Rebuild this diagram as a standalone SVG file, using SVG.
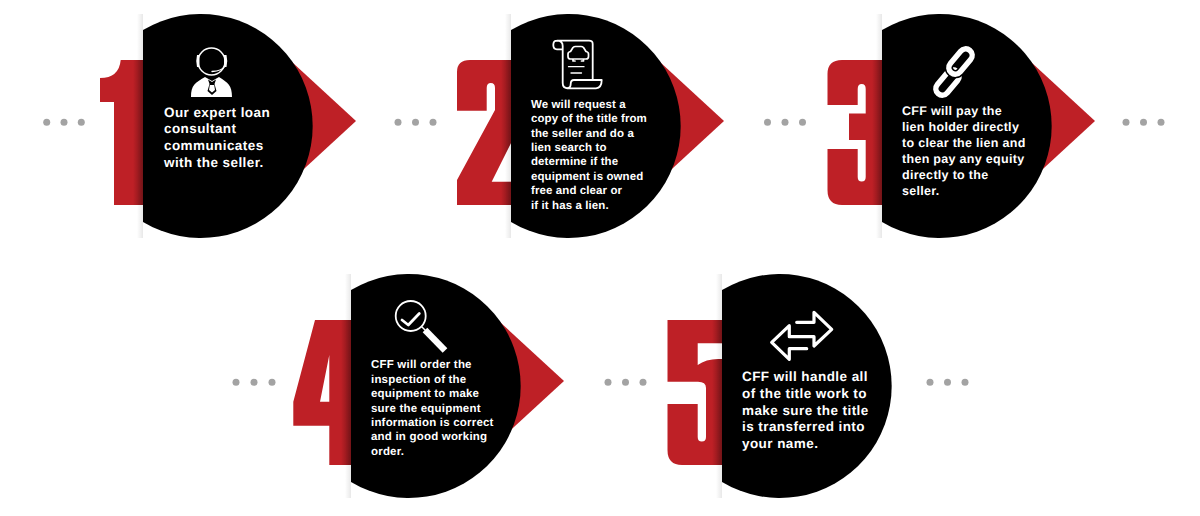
<svg xmlns="http://www.w3.org/2000/svg" width="1200" height="516" viewBox="0 0 1200 516">
<style>
.red{fill:#BE2026}
.disc{fill:#000}
.t{font-family:"Liberation Sans",Arial,sans-serif;font-weight:700;fill:#fff;text-rendering:geometricPrecision}
.t1{font-size:13.5px;letter-spacing:.42px}
.t2{font-size:11.5px;letter-spacing:.1px}
.t3{font-size:12.5px;letter-spacing:.3px}
.t4{font-size:11.5px;letter-spacing:.2px}
.t5{font-size:13.5px;letter-spacing:.43px}
.ic{fill:none;stroke:#fff;stroke-linecap:round;stroke-linejoin:round}
.dot{fill:#A3A3A3}
</style>
<defs>
<linearGradient id="sh" x1="0" x2="1" y1="0" y2="0"><stop offset="0" stop-color="#000" stop-opacity="0"/><stop offset="1" stop-color="#000" stop-opacity=".09"/></linearGradient>
<linearGradient id="shd" x1="0" x2="1" y1="0" y2="0"><stop offset="0" stop-color="#000" stop-opacity="0"/><stop offset="1" stop-color="#000" stop-opacity=".34"/></linearGradient>
<path id="d1" d="M143,60H120.700Q119,78 100,78V102H114V205H143Z"/>
<path id="d2" d="M511,60H470Q457,60 457,72V110.700H486.700V88Q486.700,83 490.800,83Q495,83 495,88V110L457,180V205H511V181.700H491.700L511,143Z"/>
<path id="d3" d="M882,60H842Q827.500,60 827.500,74V105H857.700V89Q857.700,84 861.700,84Q865.700,84 865.700,89V113.500H849V140H865.700V177Q865.700,181.500 861.700,181.500Q857.700,181.500 857.700,177V149H827.500V190Q827.500,205 842,205H882Z"/>
<path id="d4" d="M351,320H315L293.300,401.700V425.700H329.300V465H351ZM329.300,355V401.700H320Z" fill-rule="evenodd"/>
<path id="d5" fill-rule="evenodd" d="M722,320H667.500V381.700H698Q706,381.700 706,388V437Q706,441.500 701.800,441.500Q697.700,441.500 697.700,437V404H667.500V450Q667.500,465 682,465H722ZM697.700,343.300H722V359Q707,358 697.700,365Z"/>
<clipPath id="c1"><use href="#d1"/></clipPath>
<clipPath id="c2"><use href="#d2"/></clipPath>
<clipPath id="c3"><use href="#d3"/></clipPath>
<clipPath id="c4"><use href="#d4"/></clipPath>
<clipPath id="c5"><use href="#d5"/></clipPath>
<polygon id="tri" class="red" points="280,51 356,121 280,191"/>
<path id="disc" class="disc" d="M143,30A112,112 0 1 1 143,222Z"/>
<rect id="shadow" x="137" y="14" width="6" height="224" fill="url(#sh)"/>
</defs>

<g id="connectors">
<circle class="dot" cx="46.700" cy="122.300" r="3.500"/><circle class="dot" cx="64" cy="122.300" r="3.500"/><circle class="dot" cx="81.300" cy="122.300" r="3.500"/>
<circle class="dot" cx="398" cy="122.300" r="3.500"/><circle class="dot" cx="415.500" cy="122.300" r="3.500"/><circle class="dot" cx="433" cy="122.300" r="3.500"/>
<circle class="dot" cx="767.500" cy="122.300" r="3.500"/><circle class="dot" cx="785" cy="122.300" r="3.500"/><circle class="dot" cx="802.500" cy="122.300" r="3.500"/>
<circle class="dot" cx="1126" cy="122.300" r="3.500"/><circle class="dot" cx="1143.500" cy="122.300" r="3.500"/><circle class="dot" cx="1161" cy="122.300" r="3.500"/>
<circle class="dot" cx="236" cy="382.300" r="3.500"/><circle class="dot" cx="254" cy="382.300" r="3.500"/><circle class="dot" cx="272" cy="382.300" r="3.500"/>
<circle class="dot" cx="608" cy="382.300" r="3.500"/><circle class="dot" cx="625.500" cy="382.300" r="3.500"/><circle class="dot" cx="643" cy="382.300" r="3.500"/>
<circle class="dot" cx="930" cy="382.300" r="3.500"/><circle class="dot" cx="947.500" cy="382.300" r="3.500"/><circle class="dot" cx="965" cy="382.300" r="3.500"/>
</g>

<g id="step-1">
<use href="#d1" class="red"/>
<use href="#tri"/>
<use href="#shadow"/>
<rect x="133" y="60" width="10" height="145" fill="url(#shd)" clip-path="url(#c1)"/>
<use href="#disc"/>
<path fill="#fff" d="M191,97C191,85 195,83 205,77L212,81L219,77C228,83 232,85 232,97Z"/>
<path fill="#000" d="M208,79.500L212,82L216,79.500L214.500,84L216.500,91L212,95L207.500,91L209.500,84Z"/>
<path fill="#fff" d="M209.800,85L214.200,85L215,90L212,92.500L209,90Z"/>
<circle class="ic" cx="211.500" cy="61.500" r="13.500" stroke-width="1.500"/>
<path fill="#fff" d="M197,55h2.500v12H197q-1.500,-6 0,-12ZM224,55h2.500q1.500,6 0,12H224Z"/>
<path class="ic" stroke-width="1.300" d="M225,66Q222,71 212,71.500"/>
<text class="t t1" x="164" y="116.700">Our expert loan</text>
<text class="t t1" x="164" y="133.300">consultant</text>
<text class="t t1" x="164" y="150">communicates</text>
<text class="t t1" x="164" y="166.700">with the seller.</text>
</g>

<g id="step-2">
<use href="#d2" class="red"/>
<use href="#tri" x="368"/>
<use href="#shadow" x="368"/>
<rect x="501" y="60" width="10" height="145" fill="url(#shd)" clip-path="url(#c2)"/>
<use href="#disc" x="368"/>
<path class="ic" stroke-width="1.800" d="M592.700,80V44Q592.700,40.700 589,40.700H557Q553.300,40.700 553.300,45Q553.300,49.300 557,49.300H562.700M557,40.700Q562.700,41 562.700,46V83Q562.700,88.300 568,88.300H596Q601.700,88 601.700,80H574Q570.700,80 570.700,84Q570.700,88 567,88.300"/>
<path class="ic" stroke-width="1.700" d="M570.500,59Q568,59 568,56.500V54Q568,52 570.500,51.500L573,47.500Q574,46.500 575.500,46.500H581Q582.500,46.500 583.500,47.500L586,51.500Q588.500,52 588.500,54V56.500Q588.500,59 586,59ZM573,59V61H575M581.500,61H583.500V59"/>
<path class="ic" stroke-width="1.300" d="M568.500,66.700H584M571,73H581.500"/>
<text class="t t2" x="531" y="107.700">We will request a</text>
<text class="t t2" x="531" y="122">copy of the title from</text>
<text class="t t2" x="531" y="136.500">the seller and do a</text>
<text class="t t2" x="531" y="151">lien search to</text>
<text class="t t2" x="531" y="165.400">determine if the</text>
<text class="t t2" x="531" y="180">equipment is owned</text>
<text class="t t2" x="531" y="194.400">free and clear or</text>
<text class="t t2" x="531" y="208.800">if it has a lien.</text>
</g>

<g id="step-3">
<use href="#d3" class="red"/>
<use href="#tri" x="739"/>
<use href="#shadow" x="739"/>
<rect x="872" y="60" width="10" height="145" fill="url(#shd)" clip-path="url(#c3)"/>
<use href="#disc" x="739"/>
<rect class="ic" x="-14.500" y="-6.500" width="29" height="13" rx="6.500" stroke-width="5.500" transform="translate(947.500,82.500) rotate(-50)"/>
<rect x="-14.500" y="-6.500" width="29" height="13" rx="6.500" fill="none" stroke="#000" stroke-width="8.500" transform="translate(960.500,61.500) rotate(-50)"/>
<rect class="ic" x="-14.500" y="-6.500" width="29" height="13" rx="6.500" stroke-width="5.500" transform="translate(960.500,61.500) rotate(-50)"/>
<text class="t t3" x="902" y="115">CFF will pay the</text>
<text class="t t3" x="902" y="131">lien holder directly</text>
<text class="t t3" x="902" y="147">to clear the lien and</text>
<text class="t t3" x="902" y="163">then pay any equity</text>
<text class="t t3" x="902" y="179">directly to the</text>
<text class="t t3" x="902" y="194.500">seller.</text>
</g>

<g id="step-4">
<use href="#d4" class="red"/>
<use href="#tri" x="208" y="260"/>
<use href="#shadow" x="208" y="260"/>
<rect x="341" y="320" width="10" height="145" fill="url(#shd)" clip-path="url(#c4)"/>
<use href="#disc" x="208" y="260"/>
<circle class="ic" cx="410.700" cy="316" r="15" stroke-width="1.800"/>
<path class="ic" stroke-width="2.800" d="M402,320L408.300,325L419.300,313.500"/>
<path class="ic" stroke-width="1.500" d="M422,327L426,331"/>
<path stroke="#fff" stroke-width="6.500" d="M425,330L445,350.500"/>
<text class="t t4" x="371" y="368.300">CFF will order the</text>
<text class="t t4" x="371" y="382.700">inspection of the</text>
<text class="t t4" x="371" y="397">equipment to make</text>
<text class="t t4" x="371" y="411.500">sure the equipment</text>
<text class="t t4" x="371" y="425.800">information is correct</text>
<text class="t t4" x="371" y="440.300">and in good working</text>
<text class="t t4" x="371" y="454.500">order.</text>
</g>

<g id="step-5">
<use href="#d5" class="red"/>
<use href="#shadow" x="579" y="260"/>
<rect x="712" y="320" width="10" height="145" fill="url(#shd)" clip-path="url(#c5)"/>
<use href="#disc" x="579" y="260"/>
<path class="ic" stroke-width="3.200" d="M796.700,322.300H814V312.300L831.700,329.300L814,346V336.700H789.300V325.700L771.700,342.300L789.300,359.300V348.700H806.700"/>
<text class="t t5" x="742" y="380.700">CFF will handle all</text>
<text class="t t5" x="742" y="397.700">of the title work to</text>
<text class="t t5" x="742" y="414.700">make sure the title</text>
<text class="t t5" x="742" y="431">is transferred into</text>
<text class="t t5" x="742" y="448">your name.</text>
</g>
</svg>
